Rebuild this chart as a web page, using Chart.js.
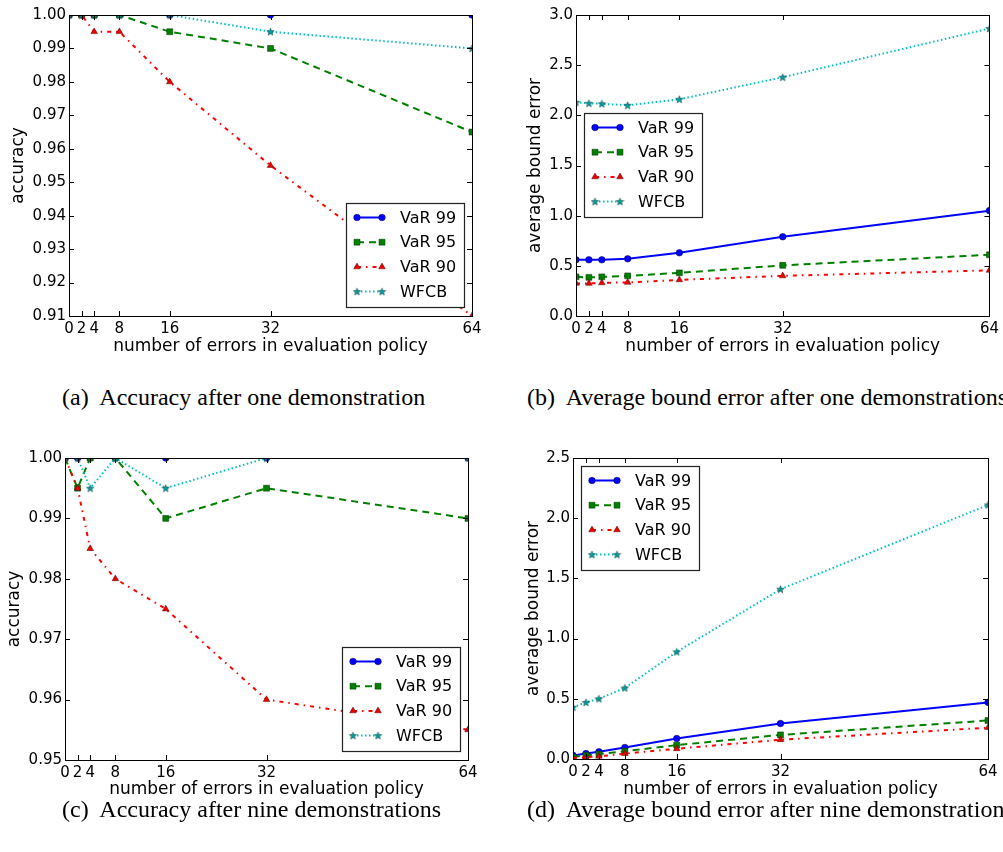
<!DOCTYPE html>
<html>
<head>
<meta charset="utf-8">
<script src="https://cdn.jsdelivr.net/npm/chart.js@4.4.1/dist/chart.umd.min.js"></script>
<style>
    body { margin: 0; background: #fff; }
    #page { position: relative; width: 1003px; height: 852px; overflow: hidden; background: #fff; }
    #page canvas { position: absolute; }
    .caption { position: absolute; font-family: "Liberation Serif", "Times New Roman", serif; font-size: 24px; line-height: 24px; white-space: nowrap; color: #000; }
</style>
</head>
<body>
<div id="page">
    <canvas id="accOneChart" width="495" height="365" style="left:0;top:0"></canvas>
    <canvas id="errOneChart" width="503" height="365" style="left:500px;top:0"></canvas>
    <canvas id="accNineChart" width="495" height="365" style="left:0;top:440px"></canvas>
    <canvas id="errNineChart" width="503" height="365" style="left:500px;top:440px"></canvas>
    <div class="caption" style="left:62px;top:385px">(a)&nbsp; Accuracy after one demonstration</div>
    <div class="caption" style="left:527px;top:385px">(b)&nbsp; Average bound error after one demonstrations</div>
    <div class="caption" style="left:62px;top:797px">(c)&nbsp; Accuracy after nine demonstrations</div>
    <div class="caption" style="left:527px;top:797px">(d)&nbsp; Average bound error after nine demonstrations</div>
</div>
<script>
// x positions (number of errors) and tick labels
const errors = [0, 2, 4, 8, 16, 32, 64];
const xTicks = [0, 2, 4, 8, 16, 32, 64];
const seriesNames = ['VaR 99', 'VaR 95', 'VaR 90', 'WFCB'];

// (a) accuracy after one demonstration
const accOneVar99 = [1.0, 1.0, 1.0, 1.0, 1.0, 1.0, 1.0];
const accOneVar95 = [1.0, 1.0, 1.0, 1.0, 0.995, 0.99, 0.965];
const accOneVar90 = [1.0, 1.0, 0.995, 0.995, 0.98, 0.955, 0.91];
const accOneWfcb = [1.0, 1.0, 1.0, 1.0, 1.0, 0.995, 0.99];
const accOneTicks = [0.91, 0.92, 0.93, 0.94, 0.95, 0.96, 0.97, 0.98, 0.99, 1.00];

// (b) average bound error after one demonstration
const errOneVar99 = [0.56, 0.56, 0.56, 0.57, 0.63, 0.79, 1.05];
const errOneVar95 = [0.39, 0.385, 0.39, 0.40, 0.43, 0.505, 0.61];
const errOneVar90 = [0.325, 0.325, 0.33, 0.335, 0.36, 0.40, 0.455];
const errOneWfcb = [2.13, 2.12, 2.115, 2.10, 2.16, 2.38, 2.865];
const errOneTicks = [0.0, 0.5, 1.0, 1.5, 2.0, 2.5, 3.0];

// (c) accuracy after nine demonstrations
const accNineVar99 = [1.0, 1.0, 1.0, 1.0, 1.0, 1.0, 1.0];
const accNineVar95 = [1.0, 0.995, 1.0, 1.0, 0.99, 0.995, 0.99];
const accNineVar90 = [1.0, 0.995, 0.985, 0.98, 0.975, 0.96, 0.955];
const accNineWfcb = [1.0, 1.0, 0.995, 1.0, 0.995, 1.0, 1.0];
const accNineTicks = [0.95, 0.96, 0.97, 0.98, 0.99, 1.00];

// (d) average bound error after nine demonstrations
const errNineVar99 = [0.03, 0.045, 0.06, 0.095, 0.17, 0.295, 0.47];
const errNineVar95 = [0.017, 0.03, 0.04, 0.065, 0.115, 0.2, 0.32];
const errNineVar90 = [0.008, 0.015, 0.022, 0.045, 0.085, 0.16, 0.26];
const errNineWfcb = [0.43, 0.47, 0.50, 0.59, 0.89, 1.41, 2.11];
const errNineTicks = [0.0, 0.5, 1.0, 1.5, 2.0, 2.5];

document.addEventListener("DOMContentLoaded", function() {
    Chart.defaults.font.family = "'DejaVu Sans', sans-serif";
    Chart.defaults.color = '#000';

    // small filled star marker like matplotlib '*'
    function makeStar() {
        const c = document.createElement('canvas');
        c.width = 9;
        c.height = 9;
        const g = c.getContext('2d');
        g.beginPath();
        for (let i = 0; i < 10; i++) {
            const r = i % 2 === 0 ? 3.9 : 1.6;
            const a = -Math.PI / 2 + i * Math.PI / 5;
            g.lineTo(4.5 + r * Math.cos(a), 4.8 + r * Math.sin(a));
        }
        g.closePath();
        g.fillStyle = '#00a0a0';
        g.fill();
        g.strokeStyle = '#104848';
        g.lineWidth = 0.6;
        g.stroke();
        return c;
    }
    const star = makeStar();

    function makeDatasets(v99, v95, v90, wfcb) {
        const pts = vals => errors.map((e, i) => ({ x: e, y: vals[i] }));
        return [{
            label: seriesNames[0],
            data: pts(v99),
            borderColor: '#0000ff',
            borderWidth: 2,
            pointStyle: 'circle',
            pointRadius: 3.3,
            pointBackgroundColor: '#0000ff',
            pointBorderColor: '#000050',
            pointBorderWidth: 0.5,
            order: 4
        }, {
            label: seriesNames[1],
            data: pts(v95),
            borderColor: '#008000',
            borderWidth: 2,
            borderDash: [7, 5],
            pointStyle: 'rect',
            pointRadius: 4.2,
            pointBackgroundColor: '#008000',
            pointBorderColor: '#003000',
            pointBorderWidth: 0.5,
            order: 3
        }, {
            label: seriesNames[2],
            data: pts(v90),
            borderColor: '#ff0000',
            borderWidth: 2,
            borderDash: [4, 5, 1.5, 5],
            pointStyle: 'triangle',
            pointRadius: 3.8,
            pointBackgroundColor: '#ee0000',
            pointBorderColor: '#500000',
            pointBorderWidth: 0.5,
            order: 2
        }, {
            label: seriesNames[3],
            data: pts(wfcb),
            borderColor: '#00bfbf',
            borderWidth: 2,
            borderDash: [1.5, 2.5],
            pointStyle: star,
            pointRadius: 4,
            pointBackgroundColor: '#00a0a0',
            pointBorderColor: '#104848',
            pointBorderWidth: 0.5,
            order: 1
        }];
    }

    // frame with inward ticks on all four sides, plus a matplotlib-like legend box
    const frameAndLegend = {
        id: 'frameAndLegend',
        afterDatasetsDraw(chart, args, opts) {
            const ctx = chart.ctx;
            const area = chart.chartArea;
            const xs = chart.scales.x;
            const ys = chart.scales.y;
            ctx.save();
            ctx.strokeStyle = '#000';
            ctx.lineWidth = 1;
            ctx.setLineDash([]);
            ctx.beginPath();
            xs.ticks.forEach(t => {
                const px = Math.round(xs.getPixelForValue(t.value)) + 0.5;
                ctx.moveTo(px, area.bottom);
                ctx.lineTo(px, area.bottom - 5);
                ctx.moveTo(px, area.top);
                ctx.lineTo(px, area.top + 5);
            });
            ys.ticks.forEach(t => {
                const py = Math.round(ys.getPixelForValue(t.value)) + 0.5;
                ctx.moveTo(area.left, py);
                ctx.lineTo(area.left + 5, py);
                ctx.moveTo(area.right, py);
                ctx.lineTo(area.right - 5, py);
            });
            ctx.stroke();
            ctx.strokeRect(Math.round(area.left) + 0.5, Math.round(area.top) + 0.5,
                Math.round(area.right - area.left), Math.round(area.bottom - area.top));

            // legend
            const lx = opts.left, ly = opts.top;
            ctx.fillStyle = '#fff';
            ctx.fillRect(lx, ly, 118, 104);
            ctx.strokeStyle = '#222';
            ctx.lineWidth = 1.2;
            ctx.strokeRect(lx + 0.5, ly + 0.5, 118, 104);
            chart.data.datasets.forEach((ds, i) => {
                const y = ly + 14.5 + i * 24.7;
                ctx.save();
                ctx.strokeStyle = ds.borderColor;
                ctx.lineWidth = ds.borderWidth;
                ctx.setLineDash(ds.borderDash || []);
                ctx.beginPath();
                ctx.moveTo(lx + 11, y);
                ctx.lineTo(lx + 36, y);
                ctx.stroke();
                ctx.setLineDash([]);
                ctx.fillStyle = ds.pointBackgroundColor;
                ctx.strokeStyle = ds.pointBorderColor;
                ctx.lineWidth = ds.pointBorderWidth;
                [lx + 11, lx + 36].forEach(px => {
                    Chart.helpers.drawPoint(ctx, {
                        pointStyle: ds.pointStyle,
                        radius: ds.pointRadius,
                        rotation: 0,
                        borderWidth: ds.pointBorderWidth
                    }, px, y);
                });
                ctx.restore();
                ctx.fillStyle = '#000';
                ctx.font = "16px 'DejaVu Sans', sans-serif";
                ctx.textBaseline = 'middle';
                ctx.textAlign = 'left';
                ctx.fillText(ds.label, lx + 54, y + 1);
            });
            ctx.restore();
        }
    };

    function makeChart(id, datasets, yTicks, yDigits, yTitle, box) {
        const canvas = document.getElementById(id).getContext('2d');
        return new Chart(canvas, {
            type: 'line',
            data: { datasets: datasets },
            options: {
                animation: false,
                responsive: false,
                events: [],
                layout: { padding: { left: 0, top: box.top, right: box.right, bottom: 0 } },
                scales: {
                    x: {
                        type: 'linear',
                        min: xTicks[0],
                        max: xTicks[xTicks.length - 1],
                        grid: { display: false, drawTicks: false },
                        border: { display: false },
                        afterBuildTicks: s => { s.ticks = xTicks.map(v => ({ value: v })); },
                        afterFit: s => { s.height = box.xHeight; },
                        ticks: {
                            autoSkip: false,
                            maxRotation: 0,
                            minRotation: 0,
                            padding: 4,
                            font: { size: 15 },
                            callback: v => String(v)
                        },
                        title: {
                            display: true,
                            text: 'number of errors in evaluation policy',
                            font: { size: 17 },
                            padding: { top: 0, bottom: box.xTitlePad }
                        }
                    },
                    y: {
                        type: 'linear',
                        min: yTicks[0],
                        max: yTicks[yTicks.length - 1],
                        grid: { display: false, drawTicks: false },
                        border: { display: false },
                        afterBuildTicks: s => { s.ticks = yTicks.map(v => ({ value: v })); },
                        afterFit: s => { s.width = box.yWidth; },
                        ticks: {
                            padding: 3,
                            font: { size: 15 },
                            callback: v => v.toFixed(yDigits)
                        },
                        title: {
                            display: true,
                            text: yTitle,
                            font: { size: 17 },
                            padding: { top: box.yTitlePad, bottom: 0 }
                        }
                    }
                },
                plugins: {
                    legend: { display: false },
                    tooltip: { enabled: false },
                    frameAndLegend: { left: box.legendLeft, top: box.legendTop }
                }
            },
            plugins: [frameAndLegend]
        });
    }

    let accOneChart = makeChart('accOneChart',
        makeDatasets(accOneVar99, accOneVar95, accOneVar90, accOneWfcb),
        accOneTicks, 2, 'accuracy',
        { top: 15, right: 23, yWidth: 69, xHeight: 49, yTitlePad: 8, xTitlePad: 8, legendLeft: 346, legendTop: 203 });

    let errOneChart = makeChart('errOneChart',
        makeDatasets(errOneVar99, errOneVar95, errOneVar90, errOneWfcb),
        errOneTicks, 1, 'average bound error',
        { top: 15, right: 11, yWidth: 76, xHeight: 49, yTitlePad: 25, xTitlePad: 8, legendLeft: 84, legendTop: 113 });

    let accNineChart = makeChart('accNineChart',
        makeDatasets(accNineVar99, accNineVar95, accNineVar90, accNineWfcb),
        accNineTicks, 2, 'accuracy',
        { top: 18, right: 27, yWidth: 65, xHeight: 45, yTitlePad: 4, xTitlePad: 5, legendLeft: 342, legendTop: 207 });

    let errNineChart = makeChart('errNineChart',
        makeDatasets(errNineVar99, errNineVar95, errNineVar90, errNineWfcb),
        errNineTicks, 1, 'average bound error',
        { top: 18, right: 15, yWidth: 73, xHeight: 46, yTitlePad: 23, xTitlePad: 5, legendLeft: 81, legendTop: 26 });
});
</script>
</body>
</html>
